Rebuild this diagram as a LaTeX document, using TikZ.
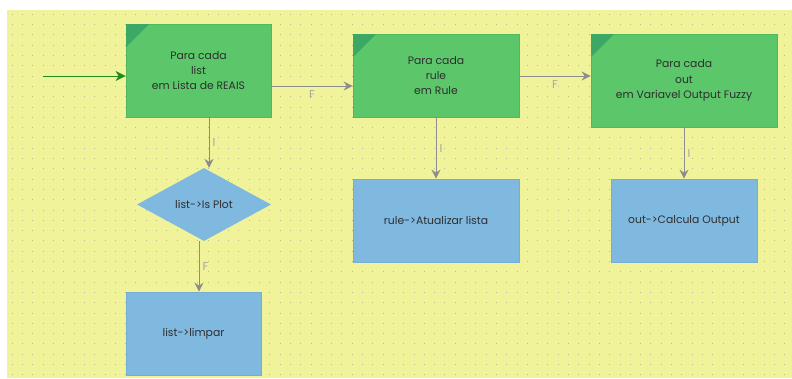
\documentclass[tikz,border=0pt]{standalone}
\usepackage{fontspec}
\setmainfont{Poppins}
\usetikzlibrary{arrows.meta,shapes.geometric,calc}
\definecolor{bgyellow}{HTML}{F0F39A}
\definecolor{dotcol}{HTML}{B9BC8A}
\definecolor{boxgreen}{HTML}{5CC66A}
\definecolor{edgegreen}{HTML}{52B85F}
\definecolor{cornergreen}{HTML}{3BA865}
\definecolor{boxblue}{HTML}{80B9E0}
\definecolor{edgeblue}{HTML}{74ADD6}
\definecolor{linegray}{HTML}{8C8C8C}
\definecolor{labgray}{HTML}{A8A8A0}
\definecolor{txt}{HTML}{2E2E2E}
\definecolor{entrygreen}{HTML}{1E8C1E}
\tikzset{
  loopbox/.style={draw=edgegreen,fill=boxgreen,line width=0.8pt,text=txt,align=center,font=\fontsize{10.8}{15.3}\selectfont,inner sep=0pt},
  actbox/.style={draw=edgeblue,fill=boxblue,line width=0.8pt,text=txt,align=center,font=\fontsize{10.8}{15.3}\selectfont,inner sep=0pt},
  conn/.style={draw=linegray,line width=1pt,-{Stealth[length=9pt,width=9pt,inset=3pt]}},
  lab/.style={text=labgray,font=\fontsize{11.5}{12}\selectfont,inner sep=0pt}
}
\begin{document}
\begin{tikzpicture}[x=1pt,y=-1pt]
\useasboundingbox (0,0) rectangle (792,378);
\fill[white] (0,0) rectangle (792,378);
\fill[bgyellow] (7,10) rectangle (792,378);
\foreach \i in {0,...,76}{
  \foreach \j in {0,...,35}{
    \fill[dotcol] ({12.3+10.3*\i-0.5},{14.3+10.3*\j-0.5}) rectangle ++(1,1);
  }
}
% loop boxes
\node[loopbox,minimum width=145pt,minimum height=93pt] (b1) at (198.5,70.5) {Para cada\\list\\em Lista de REAIS};
\node[loopbox,minimum width=166pt,minimum height=83pt] (b2) at (436,75.5) {Para cada\\rule\\em Rule};
\node[loopbox,minimum width=186pt,minimum height=93pt] (b3) at (684,80.5) {Para cada\\out\\em Variavel Output Fuzzy};
\foreach \b in {b1,b2,b3}{
  \fill[cornergreen] ($(\b.north west)+(0.4,0.4)$) -- ++(23,0) -- ++(-23,23) -- cycle;
}
% decision
\node[diamond,fill=boxblue,text=txt,font=\fontsize{10.8}{12}\selectfont,minimum width=134pt,minimum height=73pt,inner sep=0pt,aspect=1.84] (d1) at (204,204.5) {list->Is Plot};
% action boxes
\node[actbox,minimum width=135pt,minimum height=83pt] (a1) at (193.5,333.5) {list->limpar};
\node[actbox,minimum width=166pt,minimum height=83pt] (a2) at (436,220.5) {rule->Atualizar lista};
\node[actbox,minimum width=146pt,minimum height=83pt] (a3) at (684,220.5) {out->Calcula Output};
% entry
\coordinate (start) at (43,76);
\draw[draw=entrygreen,line width=1pt,-{Stealth[length=10pt,width=10pt,inset=3pt]}] (start) -- (b1.west |- start);
% connectors
\draw[conn] (b1.east |- 0,86) -- (b2.west |- 0,86) node[lab,pos=0.5,below=4pt] {F};
\draw[conn] (b2.east |- 0,76) -- (b3.west |- 0,76) node[lab,pos=0.5,below=4pt] {F};
\draw[conn] (b1.south -| 209,0) -- (d1.north -| 209,0) node[lab,pos=0.5,right=3pt] {I};
\draw[conn] (d1.south -| 199,0) -- (a1.north -| 199,0) node[lab,pos=0.5,right=3pt] {F};
\draw[conn] (b2.south) -- (a2.north) node[lab,pos=0.5,right=3pt] {I};
\draw[conn] (b3.south) -- (a3.north) node[lab,pos=0.5,right=3pt] {I};
\end{tikzpicture}
\end{document}
